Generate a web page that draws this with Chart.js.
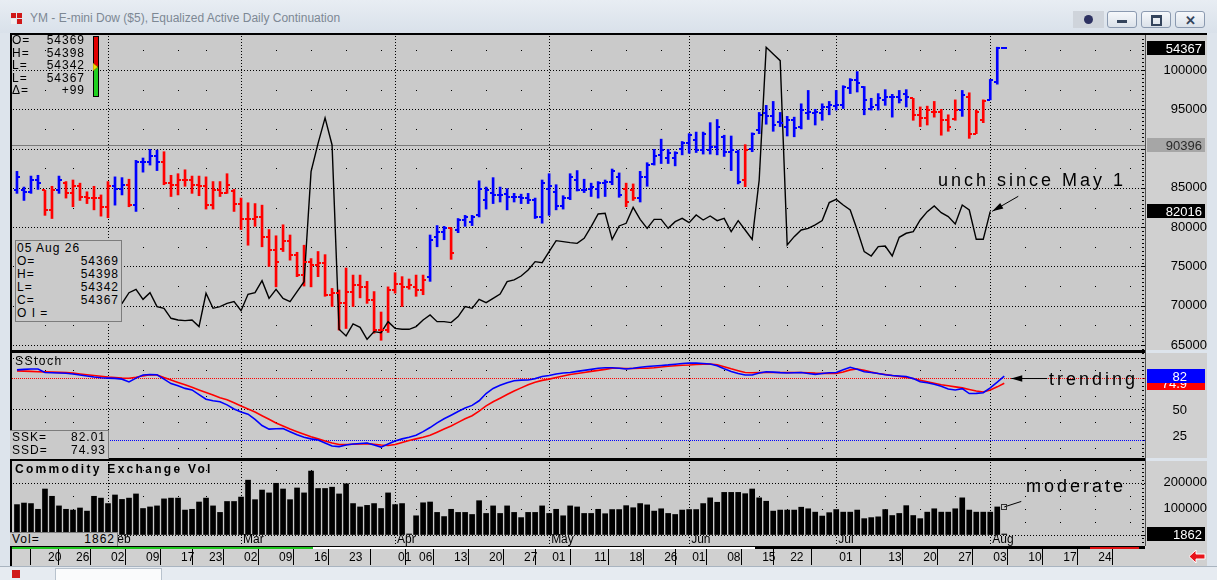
<!DOCTYPE html>
<html>
<head>
<meta charset="utf-8">
<script src="https://cdn.jsdelivr.net/npm/chart.js@4.4.1/dist/chart.umd.min.js"></script>
<style>
  body { margin: 0; width: 1217px; height: 580px; overflow: hidden; position: relative;
         background: #dde4ec; font-family: "Liberation Sans", Arial, sans-serif; }
  .abs { position: absolute; }
  canvas { position: absolute; left: 12px; background: #d0d0d0; }
  .box { position: absolute; font-size: 12px; letter-spacing: 1px; color: #000; box-sizing: border-box; }
  .row { display: flex; justify-content: space-between; }
  .note { position: absolute; font-size: 18px; letter-spacing: 3px; color: #000; line-height: 22px; white-space: nowrap; }
  .btn { position: absolute; top: 11px; height: 17px; width: 30px; box-sizing: border-box; border: 1px solid #8b9ab0;
         border-radius: 3px; background: linear-gradient(#f6f8fb, #dbe2ea); }
</style>
</head>
<body>
<!-- window chrome -->
<div class="abs" style="left:0;top:0;width:1217px;height:33px;background:linear-gradient(#e8edf3,#d9e1ea);"></div>
<div class="abs" style="left:11px;top:13px;width:5px;height:5px;background:#d01818;"></div>
<div class="abs" style="left:17px;top:13px;width:5px;height:5px;background:#d01818;"></div>
<div class="abs" style="left:11px;top:19px;width:5px;height:5px;background:#f0f0f0;"></div>
<div class="abs" style="left:17px;top:19px;width:5px;height:5px;background:#d01818;"></div>
<div class="abs" style="left:30px;top:11px;font-size:12px;color:#7d8894;white-space:nowrap;">YM - E-mini Dow ($5), Equalized Active Daily Continuation</div>
<div class="abs" style="left:1073px;top:11px;width:31px;height:17px;background:#cfd4db;"></div>
<div class="abs" style="left:1084px;top:15px;width:9px;height:9px;border-radius:50%;background:#2e3262;"></div>
<div class="btn" style="left:1107px;"><div class="abs" style="left:9px;top:8px;width:10px;height:3px;background:#34445c;"></div></div>
<div class="btn" style="left:1141px;"><div class="abs" style="left:9px;top:3px;width:7px;height:6px;border:2px solid #34445c;border-top-width:3px;"></div></div>
<div class="btn" style="left:1175px;"><div class="abs" style="left:9px;top:1px;font-size:13px;font-weight:bold;color:#34445c;">✕</div></div>

<!-- chart frame -->
<div class="abs" style="left:10px;top:33px;width:1197px;height:2px;background:#000;"></div>
<div class="abs" style="left:10px;top:33px;width:2px;height:533px;background:#000;"></div>

<canvas id="priceChart" width="1195" height="315" style="top:35px;"></canvas>
<canvas id="stochChart" width="1195" height="105" style="top:353px;"></canvas>
<canvas id="volChart" width="1195" height="105" style="top:461px;"></canvas>

<div class="abs" style="left:10px;top:350px;width:1135px;height:3px;background:#000;"></div>
<div class="abs" style="left:10px;top:458px;width:1135px;height:3px;background:#000;"></div>
<div class="abs" style="left:1145px;top:35px;width:1px;height:511px;background:#505050;"></div>

<!-- scroll position strip -->
<div class="abs" style="left:12px;top:546px;width:1133px;height:3px;background:#000;"></div>
<div class="abs" style="left:12px;top:547px;width:301px;height:2px;background:#1fc61f;"></div>
<div class="abs" style="left:313px;top:547px;width:442px;height:2px;background:#fff;"></div>
<div class="abs" style="left:1090px;top:547px;width:49px;height:2px;background:#e01010;"></div>

<!-- bottom toolbar -->
<div class="abs" style="left:0;top:566px;width:1217px;height:14px;background:#e6ebf1;border-top:1px solid #a9b4c0;"></div>
<div class="abs" style="left:55px;top:568px;width:105px;height:12px;background:#fafbfc;border:1px solid #b8c2cd;"></div>
<div class="abs" style="left:12px;top:570px;width:8px;height:8px;background:#d01818;"></div>
<svg class="abs" style="left:1188px;top:549px;" width="18" height="15">
  <polygon points="1,7.5 8,1 8,5 17,5 17,10 8,10 8,14" fill="#e8141b" stroke="#fff" stroke-width="1"/>
</svg>

<!-- text boxes -->
<div class="box" style="left:12px;top:34px;width:73px;line-height:12.5px;">
  <div class="row"><span>O=</span><span>54369</span></div>
  <div class="row"><span>H=</span><span>54398</span></div>
  <div class="row"><span>L=</span><span>54342</span></div>
  <div class="row"><span>L=</span><span>54367</span></div>
  <div class="row"><span>Δ=</span><span>+99</span></div>
</div>
<div class="abs" style="left:93px;top:36px;width:4px;height:29px;background:#e00000;border:1px solid #000;"></div>
<div class="abs" style="left:93px;top:66px;width:4px;height:29px;background:#20d020;border:1px solid #000;"></div>
<svg class="abs" style="left:93px;top:63px;" width="6" height="8"><polygon points="0,0 5,4 0,8" fill="#f0e000" stroke="#806000" stroke-width="0.6"/></svg>

<div class="box" style="left:15px;top:240px;width:107px;height:82px;border:1px solid #7c7c7c;background:#cacaca;padding:1px 2px 0 1px;line-height:13px;">
  <div>05 Aug 26</div>
  <div class="row"><span>O=</span><span>54369</span></div>
  <div class="row"><span>H=</span><span>54398</span></div>
  <div class="row"><span>L=</span><span>54342</span></div>
  <div class="row"><span>C=</span><span>54367</span></div>
  <div>O I =</div>
</div>

<div class="box" style="left:15px;top:355px;letter-spacing:1.5px;line-height:13px;">SStoch</div>
<div class="box" style="left:10px;top:430px;width:99px;height:29px;border-top:1px solid #7c7c7c;border-right:1px solid #7c7c7c;background:#cacaca;padding:0 2px 0 2px;line-height:13px;">
  <div class="row"><span>SSK=</span><span>82.01</span></div>
  <div class="row"><span>SSD=</span><span>74.93</span></div>
</div>

<div class="box" style="left:15px;top:462px;font-weight:bold;letter-spacing:2.3px;line-height:14px;">Commodity Exchange Vol</div>
<div class="box" style="left:10px;top:532px;width:108px;height:14px;border-top:1px solid #7c7c7c;border-right:1px solid #7c7c7c;background:#cacaca;padding:0 2px 0 2px;line-height:13px;">
  <div class="row"><span>Vol=</span><span>1862</span></div>
</div>

<div class="note" style="left:938px;top:169px;">unch since May 1</div>
<div class="note" style="left:1049px;top:368px;">trending</div>
<div class="note" style="left:1026px;top:475px;">moderate</div>

<script>
// ---- data (one entry per trading day, 13 Jan .. 05 Aug 2026) ----
const highs = [
  87100, 85100, 86500, 86600, 84700, 85200, 86500, 85800, 86000, 85600,
  84500, 85200, 84100, 85800, 86400, 86300, 86100, 88500, 88800, 89900,
  89800, 89600, 86600, 86800, 87300, 86500, 86500, 86400, 85800, 85800,
  86800, 84800, 83700, 83100, 83000, 82800, 79700, 78900, 80300, 79000,
  76800, 77700, 76000, 76900, 76500, 72200, 72000, 74800, 73900, 73900,
  73100, 71800, 69200, 72400, 74200, 73700, 73400, 73900, 73900, 79000,
  80200, 80100, 79900, 81100, 81500, 81500, 85900, 85100, 86300, 85100,
  84900, 84300, 84200, 84300, 83700, 86000, 86800, 85400, 84000, 86800,
  87200, 86100, 85600, 85800, 86000, 87400, 86900, 85600, 85500, 87100,
  88200, 89900, 91200, 89900, 89600, 90900, 91900, 92100, 92100, 93300,
  93700, 91700, 91600, 89800, 90500, 92000, 94600, 95500, 96000, 94600,
  94100, 94000, 95700, 97400, 95000, 95700, 96000, 97400, 98000, 98900,
  99800, 97900, 96400, 97000, 97500, 96900, 97400, 97500, 96400, 95300,
  95400, 96000, 95000, 94300, 96200, 97400, 97100, 94900, 96200, 98800,
  102900, 102880
];
const lows = [
  84300, 83400, 84300, 84800, 81500, 81100, 84300, 83700, 82600, 83400,
  83000, 82200, 81400, 81200, 82800, 84100, 82600, 82000, 87000, 87900,
  87200, 85400, 83900, 84100, 85200, 84300, 84000, 82300, 82300, 83900,
  84300, 82000, 79700, 77700, 80100, 77500, 75000, 72400, 76900, 75800,
  73700, 72500, 72400, 73700, 71200, 69900, 66900, 67100, 69900, 71000,
  70300, 66500, 65600, 66600, 71600, 69900, 72100, 71200, 71400, 73100,
  77500, 78400, 75900, 79300, 80100, 80200, 81300, 82300, 83000, 83200,
  82200, 83200, 83000, 83000, 81100, 80500, 81500, 82200, 82300, 83500,
  84600, 84400, 83900, 83700, 83900, 85400, 83800, 82600, 83400, 83200,
  85200, 87900, 88100, 88100, 87800, 89200, 89400, 89500, 89300, 89300,
  89200, 89000, 87200, 85500, 85150, 89600, 91900, 93100, 92200, 92800,
  91600, 91500, 92500, 93700, 93000, 93600, 94300, 94900, 95100, 97000,
  97200, 94300, 94900, 94900, 95500, 94000, 95800, 95300, 93600, 92800,
  93000, 94000, 91700, 92200, 93600, 94100, 91300, 91900, 93300, 96200,
  98200, 102780
];
const opens = [
  84700, 84700, 84500, 86000, 84700, 82200, 84700, 85600, 84300, 85200,
  83900, 83700, 83700, 82600, 85200, 84900, 85400, 82800, 88300, 88300,
  89000, 88300, 85600, 85400, 86000, 86000, 85400, 85200, 82800, 84700,
  84300, 84600, 83000, 81100, 81100, 81300, 78800, 77100, 77200, 78200,
  76500, 73900, 75600, 75200, 75400, 71400, 71600, 70300, 71800, 72600,
  72400, 70700, 66900, 66900, 72000, 72800, 72400, 72400, 72000, 73700,
  78800, 79400, 79900, 79600, 80900, 80700, 81500, 83500, 84300, 84100,
  84200, 83800, 83900, 83700, 83500, 81300, 84900, 84500, 82700, 83700,
  86000, 84700, 84800, 84800, 85600, 85800, 86400, 84900, 84700, 83700,
  86400, 88100, 89200, 88800, 88800, 90000, 90700, 91100, 89800, 89800,
  90200, 91500, 89600, 89600, 86000, 90000, 92400, 94500, 94100, 93400,
  92800, 93600, 92800, 94500, 94500, 94500, 95300, 95400, 95500, 97700,
  98700, 97900, 95100, 95500, 96200, 96600, 96600, 97000, 96400, 94300,
  93900, 94700, 94700, 93600, 93800, 94900, 96600, 91900, 93600, 96200,
  98500, 102800
];
const closes = [
  86400, 84500, 86000, 85600, 82200, 84700, 86000, 84300, 85200, 83900,
  83700, 83700, 82600, 85200, 84900, 85400, 82800, 88300, 88300, 89000,
  88300, 85600, 85400, 86000, 86000, 85400, 85200, 82800, 84700, 84300,
  85400, 83000, 81100, 81100, 81300, 78800, 77100, 75600, 78200, 76500,
  73900, 75600, 75200, 75400, 71400, 71600, 70300, 71800, 72600, 72400,
  70700, 66900, 66900, 72000, 72800, 72400, 72600, 72000, 73300, 78400,
  79400, 79900, 76700, 80900, 81300, 81300, 84900, 84700, 84100, 84100,
  83800, 83900, 83700, 83500, 81300, 85600, 85200, 82700, 83700, 86400,
  84700, 84700, 85100, 85600, 85700, 87100, 84100, 83200, 83700, 86400,
  87900, 89000, 89800, 89500, 89400, 90700, 91700, 89800, 91900, 90200,
  92800, 89600, 89800, 85800, 89800, 91900, 94300, 94100, 93000, 93200,
  93600, 92600, 94900, 94700, 94700, 95300, 95500, 95500, 97900, 98700,
  98300, 96200, 95300, 96400, 96600, 96600, 96200, 96600, 94300, 93900,
  94900, 94700, 93600, 92800, 94900, 96800, 91900, 94700, 96000, 98700,
  102800, 102830
];
// 1 = up-trend (blue), -1 = down-trend (red)
const trend = [
  1, 1, 1, 1, -1, -1, 1, -1, -1, -1,
  -1, -1, -1, -1, 1, 1, -1, 1, 1, 1,
  1, -1, -1, -1, -1, -1, -1, -1, -1, -1,
  -1, -1, -1, -1, -1, -1, -1, -1, -1, -1,
  -1, -1, -1, -1, -1, -1, -1, -1, -1, -1,
  -1, -1, -1, -1, -1, -1, -1, -1, -1, 1,
  1, 1, -1, 1, 1, 1, 1, 1, 1, 1,
  1, 1, 1, 1, 1, 1, 1, 1, 1, 1,
  1, 1, 1, 1, 1, 1, 1, -1, -1, 1,
  1, 1, 1, 1, 1, 1, 1, 1, 1, 1,
  1, 1, 1, 1, -1, 1, 1, 1, 1, 1,
  1, 1, 1, 1, 1, 1, 1, 1, 1, 1,
  1, 1, 1, 1, 1, 1, 1, 1, -1, -1,
  -1, -1, -1, -1, -1, 1, -1, -1, -1, 1,
  1, 1
];
const openInterest = [
  null, null, null, null, null, null, null, null, null, null,
  null, null, null, 69500, 69800, 70300, 71660, 72090, 70810, 71660,
  69880, 69670, 68400, 68180, 68100, 68180, 67340, 71580, 69670, 69880,
  70300, 70520, 69370, 71450, 71660, 73190, 70940, 72090, 70940, 70520,
  71790, 73060, 87060, 90670, 93900, 90460, 67000, 66150, 67680, 67250,
  65720, 66700, 66570, 67970, 67120, 67000, 67000, 67340, 68190, 68820,
  67970, 67970, 67850, 68610, 69880, 69670, 70810, 70390, 70940, 71490,
  73070, 73280, 73780, 74550, 75610, 75480, 76880, 78280, 78150, 78030,
  77940, 78580, 80060, 81670, 81760, 78450, 80150, 80490, 82520, 80990,
  79850, 80990, 80990, 79850, 80700, 81120, 80570, 81550, 80910, 81420,
  80830, 81120, 79420, 80830, 79640, 78450, 86000, 102890, 102040, 101190,
  77730, 78790, 79640, 79850, 80280, 80830, 83120, 83540, 82820, 82180,
  79640, 76880, 76330, 77520, 77600, 76330, 78710, 79220, 79430, 80910,
  81970, 82690, 81840, 81340, 80400, 82820, 82180, 78450, 78450, 82016,
  null, null
];
const ssk = [
  88, 88.5, 88.8, 88.8, 85.5, 85.2, 85, 84.7, 84, 83,
  82, 81, 80.3, 80, 79.7, 79, 76.3, 80, 83, 83.5,
  83.2, 79, 74.7, 72.5, 70, 68.5, 64, 59.5, 58, 57,
  54, 50, 47, 45, 40, 34, 30.5, 30.8, 31, 28,
  25, 22.5, 21, 20, 17, 14, 13.5, 15, 16, 16.5,
  17, 15, 13, 16, 19, 21, 22.5, 24.5, 28, 32,
  36.5, 40.5, 44, 47.5, 51, 53.5, 58, 65, 70, 73,
  75.5, 77.5, 78, 78.2, 79.5, 81.5, 82.5, 84, 85, 85.5,
  86.5, 87.5, 88.5, 89.5, 90, 90, 89.5, 88.8, 89.5, 90.5,
  91.2, 91.8, 92.3, 92.8, 93.5, 94.2, 94.7, 94.5, 94.2, 93.7,
  92, 89, 86.5, 84.5, 83, 83, 85, 86.2, 85.8, 85.3,
  85, 85.2, 85.5, 84.5, 83.6, 84.5, 85.2, 85.5, 88, 90.5,
  88.5, 86.2, 85.5, 84.5, 83.2, 82.5, 82, 81.6, 79.5, 76.5,
  75.5, 74, 72, 69.5, 68.5, 69.7, 65, 65.2, 65.8, 70.5,
  76, 82.01
];
const ssd = [
  87, 86.8, 86.5, 86.2, 86, 85.8, 85.6, 85.5, 84.8, 84,
  83.2, 82.5, 81.8, 81, 80.5, 80, 79.8, 80.8, 82.2, 83.3,
  83, 80.5, 78.2, 75.8, 73.5, 71, 68.5, 66, 63.5, 61,
  59, 56, 53, 50, 47, 43.5, 40, 36.5, 33.5, 30.5,
  28, 25.5, 23, 21, 19, 17, 15.5, 15.5, 15.8, 16,
  16.4, 15.8, 15, 14.5, 15.5, 17.5, 19.5, 21, 22.5, 24.5,
  27.5, 30.5, 33.5, 37, 40.5, 43.5, 48, 53, 57, 60.5,
  64, 67.5, 70.5, 73.5, 76, 77.8, 79, 80.5, 82, 83.5,
  84.5, 85.5, 86.5, 87.5, 88.5, 89.5, 89.5, 89.3, 89.3, 89.5,
  89.5, 90, 90.8, 91.5, 92, 92.5, 92.7, 93.2, 93.5, 93.7,
  93, 91, 89, 87.2, 85.5, 85.2, 85.3, 85.5, 85.5, 85.5,
  85.5, 85.5, 85.5, 85.2, 84.8, 84.6, 84.6, 84.6, 86, 88,
  88.8, 87.5, 85.8, 84.5, 83.5, 82.5, 81.5, 80.6, 79.6, 78,
  76.5, 75, 73.5, 72.5, 71.5, 70.5, 69, 67.5, 66.5, 68.5,
  71.5, 74.93
];
const volume = [
  115000, 121000, 119000, 97000, 175000, 147000, 110000, 97000, 94000, 102000,
  90000, 147000, 140000, 119000, 152000, 135000, 140000, 156000, 100000, 106000,
  110000, 137000, 140000, 140000, 94000, 97000, 125000, 140000, 110000, 85000,
  127000, 127000, 144000, 209000, 134000, 171000, 160000, 197000, 175000, 134000,
  179000, 160000, 244000, 177000, 177000, 182000, 156000, 195000, 119000, 106000,
  112000, 119000, 100000, 160000, 115000, 119000, 2000, 72000, 122000, 125000,
  85000, 69000, 97000, 85000, 85000, 77000, 130000, 81000, 110000, 81000,
  110000, 85000, 65000, 85000, 85000, 110000, 81000, 97000, 72000, 110000,
  106000, 81000, 81000, 97000, 80000, 96000, 96000, 111000, 103000, 119000,
  114000, 90000, 99000, 81000, 77000, 94000, 96000, 96000, 119000, 141000,
  124000, 162000, 162000, 162000, 157000, 175000, 141000, 128000, 90000, 94000,
  94000, 94000, 105000, 99000, 86000, 71000, 84000, 96000, 86000, 86000,
  94000, 61000, 65000, 68000, 96000, 73000, 81000, 111000, 73000, 61000,
  86000, 99000, 86000, 86000, 99000, 141000, 94000, 86000, 86000, 86000,
  106000, 1862
];
const refLevel = 90396;

// date axis (bar index -> label)
const dateIdx = [4, 8, 13, 18, 23, 27, 32, 37, 42, 47, 54, 57, 62, 67, 72, 76, 82, 87, 92, 96,
                 101, 106, 110, 117, 124, 129, 134, 139, 144, 149, 154];
const dateLbl = ['20', '26', '02', '09', '17', '23', '02', '09', '16', '23', '01', '06', '13', '20', '27',
                 '01', '11', '18', '26', '01', '08', '15', '22', '01', '13', '20', '27', '03', '10', '17', '24'];
const monthIdx = [13, 32, 54, 76, 96, 117, 139];
const monthLbl = ['Feb', 'Mar', 'Apr', 'May', 'Jun', 'Jul', 'Aug'];
const weekIdx = [4, 8, 18, 23, 27, 37, 42, 47, 52, 57, 62, 67, 72, 82, 87, 92, 101, 106, 110, 115,
                 124, 129, 134, 144, 149, 154, 159];
const priceTicks = [65000, 70000, 75000, 80000, 85000, 95000, 100000];
const stochTicks = [25, 50];
const volTicks = [100000, 200000];

// ---- styling ----
const FONT = '"Liberation Sans", Arial, sans-serif';
const PLOT_BG = '#cacaca';
const BLUE = '#0000ff';
const RED = '#ff0000';
const X_MIN = -0.71, X_MAX = 161.1;
const AXIS_W = 62;
const TAG_W = 58;

Chart.defaults.font.family = FONT;

const pts = arr => arr.map((v, i) => ({x: i, y: v}));

const gridPlugin = {
    id: 'dotGrid',
    beforeDraw(chart, args, o) {
        const {ctx, chartArea: a, scales: {x, y}} = chart;
        ctx.save();
        ctx.fillStyle = PLOT_BG;
        ctx.fillRect(a.left, a.top, a.right - a.left, a.bottom - a.top);
        ctx.fillStyle = '#000';
        o.rows.forEach(v => {
            const py = Math.round(y.getPixelForValue(v));
            for (let px = a.left + 1; px < a.right; px += 3) ctx.fillRect(px, py, 1, 1);
        });
        monthIdx.forEach(i => {
            const px = Math.round(x.getPixelForValue(i));
            for (let py = a.top + 1; py < a.bottom; py += 3) ctx.fillRect(px, py, 1, 1);
        });
        o.dots.forEach(v => {
            const py = Math.round(y.getPixelForValue(v));
            weekIdx.forEach(i => ctx.fillRect(Math.round(x.getPixelForValue(i)), py, 1, 1));
        });
        for (let v = Math.ceil(y.min / o.ruler) * o.ruler; v <= y.max; v += o.ruler) {
            ctx.fillRect(Math.round(a.right) - 3, Math.round(y.getPixelForValue(v)), 2, 1);
        }
        (o.refs || []).forEach(r => {
            const py = Math.round(y.getPixelForValue(r.v)) + 0.5;
            ctx.strokeStyle = r.color;
            ctx.lineWidth = 1;
            ctx.setLineDash(r.dash);
            ctx.beginPath();
            ctx.moveTo(a.left, py);
            ctx.lineTo(a.right, py);
            ctx.stroke();
        });
        ctx.restore();
    }
};

// value tags in the axis column; the axis labels of the panel are written here too
const tagPlugin = {
    id: 'tags',
    afterDraw(chart, args, o) {
        const {ctx, chartArea: a, scales: {y}} = chart;
        ctx.save();
        ctx.font = '13px ' + FONT;
        ctx.textAlign = 'right';
        ctx.textBaseline = 'middle';
        ctx.fillStyle = '#000';
        (o.labels || []).forEach(v => {
            ctx.fillText(String(v), a.right + 2 + o.textX, Math.round(y.getPixelForValue(v)) + 1);
        });
        o.list.forEach(t => {
            const py = Math.round(y.getPixelForValue(t.v));
            ctx.fillStyle = t.bg;
            ctx.fillRect(a.right + 2, py - 7, TAG_W, 14);
            ctx.fillStyle = t.fg;
            ctx.fillText(t.text, a.right + 2 + o.textX, py + 1);
        });
        ctx.restore();
    }
};

const notePlugin = {
    id: 'notes',
    afterDatasetsDraw(chart, args, o) {
        const {ctx, scales: {x, y}} = chart;
        ctx.save();
        ctx.strokeStyle = '#000';
        ctx.fillStyle = '#000';
        ctx.lineWidth = 1;
        o.list.forEach(n => {
            const tx = x.getPixelForValue(n.i) + n.tip[0];
            const ty = y.getPixelForValue(n.v) + n.tip[1];
            const bx = tx + n.tail[0], by = ty + n.tail[1];
            ctx.beginPath();
            ctx.moveTo(bx, by);
            ctx.lineTo(tx, ty);
            ctx.stroke();
            if (n.head === 'arrow') {
                const ang = Math.atan2(by - ty, bx - tx);
                const len = 11, half = 3.2;
                const cx = tx + Math.cos(ang) * len, cy = ty + Math.sin(ang) * len;
                ctx.beginPath();
                ctx.moveTo(tx, ty);
                ctx.lineTo(cx - Math.sin(ang) * half, cy + Math.cos(ang) * half);
                ctx.lineTo(cx + Math.sin(ang) * half, cy - Math.cos(ang) * half);
                ctx.closePath();
                ctx.fill();
            } else {
                ctx.strokeStyle = '#303030';
                ctx.strokeRect(Math.round(tx) - 2.5, Math.round(ty) - 2.5, 5, 5);
            }
        });
        ctx.restore();
    }
};

const ohlcTicks = {
    id: 'ohlcTicks',
    afterDatasetsDraw(chart) {
        const {ctx, scales: {y}} = chart;
        const meta = chart.getDatasetMeta(1);
        ctx.save();
        ctx.lineWidth = 2;
        meta.data.forEach((bar, i) => {
            const bx = Math.round(bar.x);
            const yo = Math.round(y.getPixelForValue(opens[i]));
            const yc = Math.round(y.getPixelForValue(closes[i]));
            ctx.strokeStyle = trend[i] > 0 ? BLUE : RED;
            ctx.beginPath();
            ctx.moveTo(bx - 3, yo);
            ctx.lineTo(bx, yo);
            ctx.moveTo(bx, yc);
            ctx.lineTo(bx + 3, yc);
            ctx.stroke();
        });
        ctx.restore();
    }
};

const monthPlugin = {
    id: 'months',
    afterDatasetsDraw(chart) {
        const {ctx, chartArea: a, scales: {x}} = chart;
        ctx.save();
        ctx.font = '12px ' + FONT;
        ctx.fillStyle = '#000';
        ctx.textAlign = 'left';
        ctx.textBaseline = 'middle';
        monthIdx.forEach((i, k) => ctx.fillText(monthLbl[k], x.getPixelForValue(i) + 2, a.bottom - 6));
        ctx.restore();
    }
};

function yAxis(min, max, ticks, pad) {
    return {
        position: 'right', min: min, max: max,
        afterFit: s => { s.width = AXIS_W; s.paddingTop = 0; s.paddingBottom = 0; },
        afterBuildTicks: s => { s.ticks = ticks.map(v => ({value: v})); },
        grid: {display: false, drawTicks: false},
        border: {display: false},
        ticks: {display: ticks.length > 0, autoSkip: false, padding: pad, crossAlign: 'far', color: '#000',
                font: {size: 13}, callback: v => String(v)}
    };
}

function baseOptions(yScale, plugins) {
    return {
        responsive: false, animation: false, events: [],
        layout: {padding: 0},
        plugins: Object.assign({legend: {display: false}, tooltip: {enabled: false}}, plugins),
        scales: {
            x: {type: 'linear', min: X_MIN, max: X_MAX, offset: false, display: false},
            y: yScale
        }
    };
}

// ---- price panel ----
new Chart(document.getElementById('priceChart'), {
    type: 'bar',
    data: {
        datasets: [
            {type: 'line', data: pts(openInterest), borderColor: '#000', borderWidth: 1.4,
             pointRadius: 0, tension: 0, order: 0},
            {type: 'bar', data: highs.map((h, i) => ({x: i, y: [lows[i], h]})),
             backgroundColor: trend.map(t => t > 0 ? BLUE : RED), barThickness: 2, order: 1}
        ]
    },
    options: baseOptions(yAxis(64364, 104455, priceTicks, 14), {
        dotGrid: {rows: [65000, 70000, 75000, 80000, 85000, 90000, 95000, 100000],
                  dots: [67500, 72500, 77500, 82500, 87500, 92500, 97500, 102500], ruler: 500,
                  refs: [{v: refLevel, color: '#7a7a7a', dash: []}]},
        tags: {textX: 55, list: [
            {v: refLevel, text: String(refLevel), bg: '#a6a6a6', fg: '#2a2a2a'},
            {v: openInterest[139], text: String(openInterest[139]), bg: '#000', fg: '#fff'},
            {v: closes[141], text: '54367', bg: '#000', fg: '#fff'}
        ]},
        notes: {list: [{i: 139, v: openInterest[139], tip: [2, 0], tail: [26, -15], head: 'arrow'}]}
    }),
    plugins: [gridPlugin, ohlcTicks, notePlugin, tagPlugin]
});

// ---- slow stochastic panel (its two axis labels are written by the tag plugin) ----
new Chart(document.getElementById('stochChart'), {
    type: 'line',
    data: {
        datasets: [
            {data: pts(ssk), borderColor: BLUE, borderWidth: 1.6, pointRadius: 0, tension: 0, order: 0},
            {data: pts(ssd), borderColor: RED, borderWidth: 1.6, pointRadius: 0, tension: 0, order: 1}
        ]
    },
    options: baseOptions(yAxis(2.43, 104.37, [], 0), {
        dotGrid: {rows: [100, 50], dots: [87.5, 62.5, 37.5, 12.5], ruler: 4,
                  refs: [{v: 80, color: RED, dash: [1, 1]}, {v: 20, color: BLUE, dash: [1, 1]}]},
        tags: {textX: 40, labels: stochTicks, list: [
            {v: ssd[141], text: '74.9', bg: RED, fg: '#fff'},
            {v: ssk[141], text: '82', bg: BLUE, fg: '#fff'}
        ]},
        notes: {list: [{i: 141, v: ssk[141], tip: [7, 2.5], tail: [36, 0], head: 'arrow'}]}
    }),
    plugins: [gridPlugin, notePlugin, tagPlugin]
});

// ---- volume panel with the date axis ----
const volOptions = baseOptions(yAxis(-44200, 282700, volTicks, 14), {
    dotGrid: {rows: [0, 200000], dots: [50000, 100000, 150000, 250000], ruler: 15000},
    tags: {textX: 55, list: [{v: volume[141], text: String(volume[141]), bg: '#000', fg: '#fff'}]},
    notes: {list: [{i: 141, v: volume[140], tip: [0, 0], tail: [17, -5.5], head: 'square'}]}
});
volOptions.scales.x = {
    type: 'linear', min: X_MIN, max: X_MAX, offset: false, display: true, position: 'bottom',
    afterBuildTicks: s => { s.ticks = dateIdx.map(v => ({value: v})); },
    afterFit: s => { s.height = 20; s.paddingLeft = 0; s.paddingRight = 0; },
    grid: {display: true, drawOnChartArea: false, drawTicks: true, tickLength: 19, tickColor: '#000', tickWidth: 1},
    border: {display: false},
    ticks: {autoSkip: false, maxRotation: 0, minRotation: 0, align: 'start', labelOffset: 3, padding: -15,
            color: '#000', font: {size: 12}, callback: (v, k) => dateLbl[k]}
};
new Chart(document.getElementById('volChart'), {
    type: 'bar',
    data: {
        datasets: [{data: pts(volume), backgroundColor: '#000', barThickness: 5}]
    },
    options: volOptions,
    plugins: [gridPlugin, monthPlugin, notePlugin, tagPlugin]
});
</script>
</body>
</html>
